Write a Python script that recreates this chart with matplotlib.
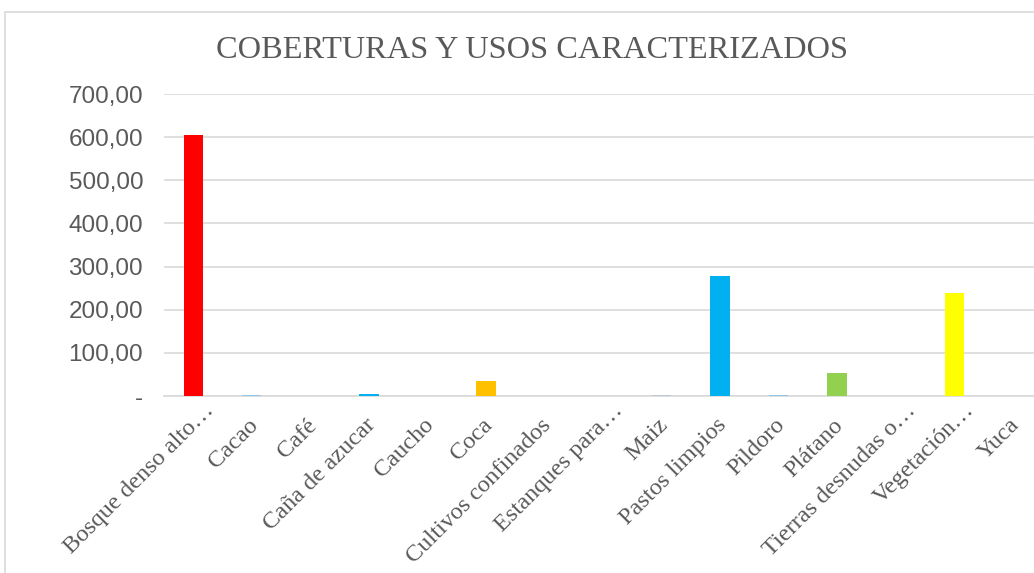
import matplotlib.pyplot as plt
from matplotlib.patches import Rectangle
from matplotlib.ticker import FuncFormatter

categorias = ['Bosque denso alto…', 'Cacao', 'Café', 'Caña de azucar', 'Caucho',
              'Coca', 'Cultivos confinados', 'Estanques para…', 'Maiz',
              'Pastos limpios', 'Pildoro', 'Plátano', 'Tierras desnudas o…',
              'Vegetación…', 'Yuca']
areas = [606.0, 2.0, 0.8, 5.5, 1.0, 35.0, 0.6, 0.8, 2.0, 278.0, 1.5, 53.0, 0.8, 239.0, 1.0]
colores = ['#FF0000', '#8DC8E8', '#C9DDE3', '#00B0F0', '#C9DDE3', '#FFC000', '#C9DDE3',
           '#C9DDE3', '#B8CCD6', '#00B0F0', '#8DC8E8', '#92D050', '#C9DDE3', '#FFFF00',
           '#C9DDE3']
y_ticks = [0, 100, 200, 300, 400, 500, 600, 700]

W, H = 1034, 573
fig = plt.figure(figsize=(W / 100, H / 100), dpi=100)

# marco del grafico (cortado a la derecha y abajo)
fig.patches.append(Rectangle((5 / W, -0.1), 1.2, 1.1 - 12 / H, transform=fig.transFigure,
                             fill=False, edgecolor='#D9D9D9', linewidth=1.2))

ax = fig.add_axes([164 / W, 177 / H, 878 / W, 302 / H])
x = list(range(len(categorias)))
ax.bar(x, areas, width=0.33, color=colores, zorder=3)
ax.set_xlim(-0.5, len(categorias) - 0.5)
ax.set_ylim(0, 700)
ax.set_yticks(y_ticks)
ax.yaxis.set_major_formatter(FuncFormatter(
    lambda v, p: '-' if v == 0 else f'{v:,.2f}'.replace(',', ' ').replace('.', ',')))
ax.grid(axis='y', color='#D9D9D9', linewidth=1.2, zorder=0)
for s in ['top', 'right', 'left']:
    ax.spines[s].set_visible(False)
ax.spines['bottom'].set_color('#D9D9D9')
ax.spines['bottom'].set_linewidth(1.2)
ax.tick_params(axis='y', length=0, pad=15, labelsize=17.5, labelcolor='#595959')
for lbl in ax.get_yticklabels():
    lbl.set_family('Liberation Sans')
ax.set_xticks(x)
ax.set_xticklabels([])
ax.tick_params(axis='x', length=0)

# etiquetas rotadas al estilo Excel: las truncadas quedan corridas por el "…"
px = 72 / 100
for i, nombre in enumerate(categorias):
    if nombre.endswith('…'):
        off = (21 * px, -15 * px)
    else:
        off = (7 * px, -30 * px)
    ax.annotate(nombre, xy=(i, 0), xycoords=('data', 'axes fraction'),
                xytext=off, textcoords='offset points', rotation=45,
                rotation_mode='anchor', ha='right', va='baseline',
                family='Liberation Serif', fontsize=17.5, color='#595959',
                annotation_clip=False)

fig.text(532 / W, 1 - 50 / H, 'COBERTURAS Y USOS CARACTERIZADOS', ha='center', va='center',
         family='Liberation Serif', fontsize=23.3, color='#595959')

fig.savefig('out.png', dpi=100)
